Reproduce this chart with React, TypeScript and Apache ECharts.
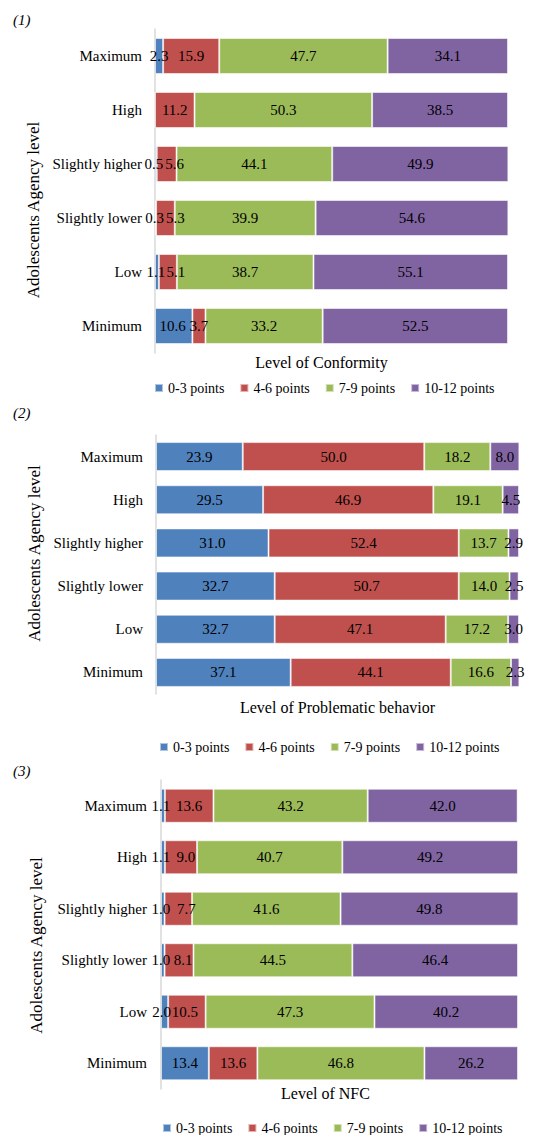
import React, { useEffect, useRef } from "react";
import * as echarts from "echarts";

const categories = ["Maximum", "High", "Slightly higher", "Slightly lower", "Low", "Minimum"];
const seriesNames = ["0-3 points", "4-6 points", "7-9 points", "10-12 points"];
const colors = ["#4F81BD", "#C0504D", "#9BBB59", "#8064A2"];

// Panel 1: Level of Conformity
const conf03 = [2.3, 0, 0.5, 0.3, 1.1, 10.6];
const conf46 = [15.9, 11.2, 5.6, 5.3, 5.1, 3.7];
const conf79 = [47.7, 50.3, 44.1, 39.9, 38.7, 33.2];
const conf1012 = [34.1, 38.5, 49.9, 54.6, 55.1, 52.5];

// Panel 2: Level of Problematic behavior
const prob03 = [23.9, 29.5, 31.0, 32.7, 32.7, 37.1];
const prob46 = [50.0, 46.9, 52.4, 50.7, 47.1, 44.1];
const prob79 = [18.2, 19.1, 13.7, 14.0, 17.2, 16.6];
const prob1012 = [8.0, 4.5, 2.9, 2.5, 3.0, 2.3];

// Panel 3: Level of NFC
const nfc03 = [1.1, 1.1, 1.0, 1.0, 2.0, 13.4];
const nfc46 = [13.6, 9.0, 7.7, 8.1, 10.5, 13.6];
const nfc79 = [43.2, 40.7, 41.6, 44.5, 47.3, 46.8];
const nfc1012 = [42.0, 49.2, 49.8, 46.4, 40.2, 26.2];

const panelTitles = ["(1)", "(2)", "(3)"];
const xNames = ["Level of Conformity", "Level of Problematic behavior", "Level of NFC"];
const yName = "Adolescents Agency level";
const panelData = [
  [conf03, conf46, conf79, conf1012],
  [prob03, prob46, prob79, prob1012],
  [nfc03, nfc46, nfc79, nfc1012],
];

const FONT = '"Liberation Serif", "Times New Roman", serif';

// horizontal label nudges (px) for crowded small segments: key = panel-series-category
const labelNudges: Record<string, number> = {
  "0-0-2": -2, "0-1-2": 8,
  "0-0-3": -1, "0-1-3": 10,
  "0-0-4": -1, "0-1-4": 8,
  "0-0-5": -1, "0-1-5": 0,
  "2-0-0": -2,
  "2-0-1": -2, "2-1-1": 5,
  "2-0-2": -2, "2-1-2": 8,
  "2-0-3": -2, "2-1-3": 4,
  "2-0-4": -3, "2-1-4": -2,
};

const layouts = [
  { left: 155, top: 29, width: 353, height: 324, barWidth: 36, nameGap: 1, namePadR: 20, yGap: 113, yPad: [0, 38, 0, 0], labelMargin: 13, legendLeft: 149, legendTop: 376, titleY: 12 },
  { left: 156, top: 435, width: 363, height: 259, barWidth: 29, nameGap: 5, namePadR: 0, yGap: 111, yPad: [0, 0, 0, 22], labelMargin: 13, legendLeft: 154, legendTop: 735, titleY: 405 },
  { left: 161, top: 780, width: 357, height: 309, barWidth: 34, nameGap: -4, namePadR: 28, yGap: 116, yPad: [0, 22, 0, 0], labelMargin: 14, legendLeft: 157, legendTop: 1116, titleY: 763 },
];

export default function App() {
  const ref = useRef<HTMLDivElement>(null);
  useEffect(() => {
    if (!ref.current) return;
    const chart = echarts.init(ref.current, undefined, { renderer: "svg" });
    const grid: any[] = [];
    const xAxis: any[] = [];
    const yAxis: any[] = [];
    const series: any[] = [];
    const legend: any[] = [];
    const graphic: any[] = [];
    layouts.forEach((L, p) => {
      grid.push({ left: L.left, top: L.top, width: L.width, height: L.height, containLabel: false });
      xAxis.push({
        gridIndex: p,
        type: "value",
        min: 0,
        max: 100,
        axisLine: { show: false },
        axisTick: { show: false },
        axisLabel: { show: false },
        splitLine: { show: false },
        name: xNames[p],
        nameLocation: "middle",
        nameGap: L.nameGap,
        nameTextStyle: { fontFamily: FONT, fontSize: 16, color: "#000", padding: [0, L.namePadR, 0, 0] },
      });
      yAxis.push({
        gridIndex: p,
        type: "category",
        data: categories,
        inverse: true,
        axisLine: { show: true, lineStyle: { color: "#D9D9D9", width: 1.5 } },
        axisTick: { show: false },
        axisLabel: { margin: L.labelMargin, fontFamily: FONT, fontSize: 15, color: "#000" },
        name: yName,
        nameLocation: "middle",
        nameRotate: 90,
        nameGap: L.yGap,
        nameTextStyle: { fontFamily: FONT, fontSize: 17, color: "#000", padding: L.yPad },
      });
      panelData[p].forEach((vals, s) => {
        series.push({
          type: "bar",
          name: seriesNames[s],
          stack: "panel" + p,
          xAxisIndex: p,
          yAxisIndex: p,
          data: vals.map((v, c) => {
            const dx = labelNudges[`${p}-${s}-${c}`];
            return dx ? { value: v, label: { offset: [dx, 0] } } : v;
          }),
          barWidth: L.barWidth,
          itemStyle: { color: colors[s], borderColor: "rgba(255,255,255,0.55)", borderWidth: 1 },
          label: {
            show: true,
            position: "inside",
            color: "#000",
            fontFamily: FONT,
            fontSize: 15,
            formatter: (d: any) => (d.value === 0 ? "" : Number(d.value).toFixed(1)),
          },
        });
      });
      legend.push({
        left: L.legendLeft,
        top: L.legendTop,
        icon: "rect",
        itemWidth: 8,
        itemHeight: 8,
        itemGap: 15,
        data: seriesNames,
        textStyle: { fontFamily: FONT, fontSize: 14, color: "#000" },
      });
      graphic.push({
        type: "text",
        left: 13,
        top: L.titleY,
        style: { text: panelTitles[p], font: `italic 15px ${FONT}`, fill: "#000" },
      });
    });
    chart.setOption({
      animation: false,
      backgroundColor: "#fff",
      grid,
      xAxis,
      yAxis,
      series,
      legend,
      graphic,
    });
    return () => chart.dispose();
  }, []);
  return (
    <div
      ref={ref}
      style={{ position: "absolute", left: 0, top: 0, width: 550, height: 1135 }}
    />
  );
}
